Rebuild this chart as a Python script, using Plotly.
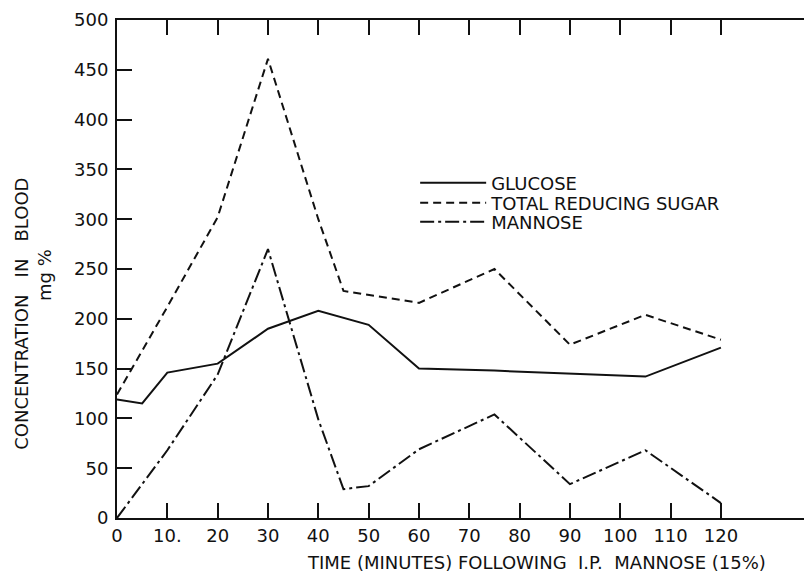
import plotly.graph_objects as go

# ---- data ----
glucose_t = [0, 5, 10, 20, 30, 40, 50, 60, 75, 90, 105, 120]
glucose_v = [119, 115, 146, 155, 190, 208, 194, 150, 148, 145, 142, 171]

trs_t = [0, 10, 20, 30, 40, 45, 60, 75, 90, 105, 120]
trs_v = [124, 212, 302, 461, 300, 228, 216, 250, 174, 204, 179]

mannose_t = [0, 10, 20, 30, 40, 45, 50, 60, 75, 90, 105, 120]
mannose_v = [0, 68, 144, 270, 99, 29, 32, 69, 104, 34, 68, 15]

x_ticks = [0, 10, 20, 30, 40, 50, 60, 70, 80, 90, 100, 110, 120]
x_tick_labels = ["0", "10.", "20", "30", "40", "50", "60", "70", "80", "90", "100", "110", "120"]
y_ticks = [0, 50, 100, 150, 200, 250, 300, 350, 400, 450, 500]

FONT = "DejaVu Sans"
INK = "#111111"

fig = go.Figure()
fig.add_trace(go.Scatter(x=glucose_t, y=glucose_v, mode="lines", name="GLUCOSE", legend="legend",
                         line=dict(color=INK, width=2, dash="solid")))
fig.add_trace(go.Scatter(x=trs_t, y=trs_v, mode="lines", name="TOTAL REDUCING SUGAR", legend="legend2",
                         line=dict(color=INK, width=2, dash="8px,5px")))
fig.add_trace(go.Scatter(x=mannose_t, y=mannose_v, mode="lines", name="MANNOSE", legend="legend3",
                         line=dict(color=INK, width=2, dash="14px,4px,3px,4px")))
# invisible trace for right-side ticks
fig.add_trace(go.Scatter(x=[None], y=[None], yaxis="y2", showlegend=False, hoverinfo="skip"))

leg_common = dict(x=0.429, xanchor="left", yanchor="middle", bgcolor="rgba(0,0,0,0)",
                  font=dict(size=18, family=FONT, color=INK), itemwidth=66)

fig.update_layout(
    width=804, height=566,
    margin=dict(l=109, r=0, t=12, b=56),
    paper_bgcolor="white", plot_bgcolor="white",
    font=dict(family=FONT, size=18, color=INK),
    showlegend=True,
    legend=dict(y=0.6727, **leg_common),
    legend2=dict(y=0.6325, **leg_common),
    legend3=dict(y=0.5944, **leg_common),
    xaxis=dict(range=[0, 138.1], tickvals=x_ticks, ticktext=x_tick_labels,
               showgrid=False, zeroline=False, showline=True, linecolor=INK, linewidth=2,
               ticks="inside", ticklen=15, tickwidth=2, tickcolor=INK, mirror="ticks",
               tickfont=dict(size=18, family=FONT, color=INK)),
    yaxis=dict(range=[0, 500], tickvals=y_ticks,
               showgrid=False, zeroline=False, showline=True, linecolor=INK, linewidth=2,
               ticks="inside", ticklen=15, tickwidth=2, tickcolor=INK,
               ticklabelstandoff=3,
               tickfont=dict(size=18, family=FONT, color=INK)),
    yaxis2=dict(range=[0, 500], tickvals=y_ticks[1:-1], overlaying="y", side="right",
                showgrid=False, zeroline=False, showline=False, showticklabels=False,
                ticks="inside", ticklen=7, tickwidth=2, tickcolor=INK),
    annotations=[
        dict(text="CONCENTRATION   IN   BLOOD", xref="paper", yref="paper",
             x=-0.1367, y=0.41, xanchor="center", yanchor="middle", textangle=-90,
             showarrow=False, font=dict(size=18, family=FONT, color=INK)),
        dict(text="mg %", xref="paper", yref="paper",
             x=-0.1036, y=0.488, xanchor="center", yanchor="middle", textangle=-90,
             showarrow=False, font=dict(size=18, family=FONT, color=INK)),
        dict(text="TIME (MINUTES) FOLLOWING  I.P.  MANNOSE (15%)", xref="paper", yref="paper",
             x=0.604, y=-0.0884, xanchor="center", yanchor="middle",
             showarrow=False, font=dict(size=18, family=FONT, color=INK)),
    ],
)

fig.write_html("out.html")
